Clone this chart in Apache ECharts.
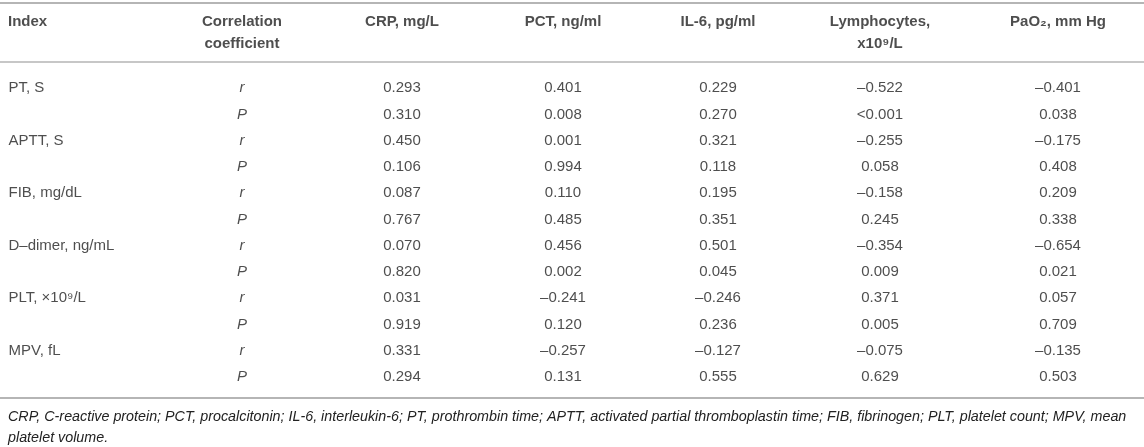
<!DOCTYPE html>
<html><head><meta charset="utf-8">
<script src="https://cdn.jsdelivr.net/npm/echarts@6/dist/echarts.min.js"></script>
<style>html,body{margin:0;padding:0;background:#fff}#c{width:1144px;height:447px}</style>
</head><body><div id="c"></div>
<script>
// ---- data ----
const indexHeader = 'Index';
const coefHeader = 'Correlation\ncoefficient';
const columnHeaders = ['CRP, mg/L', 'PCT, ng/ml', 'IL-6, pg/ml', 'Lymphocytes,\nx10⁹/L', 'PaO₂, mm Hg'];
const indices = ['PT, S', 'APTT, S', 'FIB, mg/dL', 'D–dimer, ng/mL', 'PLT, ×10⁹/L', 'MPV, fL'];
const coefLabels = ['r', 'P'];
const rValues = [
  [0.293, 0.401, 0.229, -0.522, -0.401],
  [0.450, 0.001, 0.321, -0.255, -0.175],
  [0.087, 0.110, 0.195, -0.158, 0.209],
  [0.070, 0.456, 0.501, -0.354, -0.654],
  [0.031, -0.241, -0.246, 0.371, 0.057],
  [0.331, -0.257, -0.127, -0.075, -0.135]
];
const pValues = [
  [0.310, 0.008, 0.270, '<0.001', 0.038],
  [0.106, 0.994, 0.118, 0.058, 0.408],
  [0.767, 0.485, 0.351, 0.245, 0.338],
  [0.820, 0.002, 0.045, 0.009, 0.021],
  [0.919, 0.120, 0.236, 0.005, 0.709],
  [0.294, 0.131, 0.555, 0.629, 0.503]
];
const footnoteLines = [
  'CRP, C-reactive protein; PCT, procalcitonin; IL-6, interleukin-6; PT, prothrombin time; APTT, activated partial thromboplastin time; FIB, fibrinogen; PLT, platelet count; MPV, mean',
  'platelet volume.'
];

// ---- layout (not data) ----
const W = 1144;
const COL_X = [8, 242, 402, 563, 718, 880, 1058]; // first: left edge of Index column, others: column centres
const FONT = "'Liberation Sans', Arial, Helvetica, sans-serif";
const FS = 15;
const TXT = '#222';
const RULE = '#b5b5b5';

const fmt = v => typeof v === 'string' ? v : (v < 0 ? '–' : '') + Math.abs(v).toFixed(3);
const rowKey = (i, c) => indices[i] + '|' + c;
const rowKeys = [];
indices.forEach((_, i) => coefLabels.forEach(c => rowKeys.push(rowKey(i, c))));

const baseScatter = {
  type: 'scatter', symbolSize: 1, silent: true,
  itemStyle: { color: 'rgba(0,0,0,0)' }
};
const series = [];

// header (grid 1)
series.push(Object.assign({}, baseScatter, {
  xAxisIndex: 3, yAxisIndex: 1,
  data: [{ value: [COL_X[0], 1], name: indexHeader, label: { align: 'left' } }]
    .concat([{ value: [COL_X[1], 1], name: coefHeader }])
    .concat(columnHeaders.map((h, j) => ({ value: [COL_X[j + 2], 1], name: h }))),
  label: {
    show: true, position: 'bottom', distance: 7, formatter: p => p.name,
    fontFamily: FONT, fontSize: FS, fontWeight: 'bold', color: TXT, lineHeight: 22, align: 'center'
  }
}));

// index column
series.push(Object.assign({}, baseScatter, {
  xAxisIndex: 0, yAxisIndex: 0,
  data: indices.map((n, i) => ({ value: [COL_X[0], rowKey(i, 'r')], name: n })),
  label: { show: true, position: 'right', distance: 0, formatter: p => p.name,
    fontFamily: FONT, fontSize: FS, color: TXT }
}));
// coefficient column
series.push(Object.assign({}, baseScatter, {
  xAxisIndex: 0, yAxisIndex: 0,
  data: rowKeys.map(k => ({ value: [COL_X[1], k], name: k.split('|')[1] })),
  label: { show: true, position: 'inside', formatter: p => p.name,
    fontFamily: FONT, fontSize: FS, fontStyle: 'italic', color: TXT }
}));
// value columns
columnHeaders.forEach((h, j) => {
  const data = [];
  indices.forEach((_, i) => {
    data.push({ value: [COL_X[j + 2], rowKey(i, 'r')], name: fmt(rValues[i][j]) });
    data.push({ value: [COL_X[j + 2], rowKey(i, 'P')], name: fmt(pValues[i][j]) });
  });
  series.push(Object.assign({}, baseScatter, {
    name: h, xAxisIndex: 0, yAxisIndex: 0, data,
    label: { show: true, position: 'inside', formatter: p => p.name,
      fontFamily: FONT, fontSize: FS, color: TXT }
  }));
});

const hiddenX = { type: 'value', min: 0, max: W, show: false };
const ruleAxis = (grid, pos, offset, width) => ({
  type: 'value', min: 0, max: W, gridIndex: grid, position: pos, offset,
  axisLine: { show: true, onZero: false, lineStyle: { color: RULE, width } },
  axisTick: { show: false }, axisLabel: { show: false }, splitLine: { show: false }
});

const option = {
  animation: false,
  backgroundColor: '#fff',
  title: {
    text: footnoteLines.join('\n'), left: 8, top: 407, padding: 0,
    textStyle: { fontFamily: FONT, fontSize: 14.3, fontStyle: 'italic', fontWeight: 'normal',
      color: TXT, lineHeight: 21 }
  },
  grid: [
    { left: 0, right: 0, top: 75, bottom: 57 },
    { left: 0, right: 0, top: 3, height: 57 }
  ],
  xAxis: [
    Object.assign({ gridIndex: 0 }, hiddenX),
    ruleAxis(0, 'top', 13, 1.5),
    ruleAxis(0, 'bottom', 8, 2),
    ruleAxis(1, 'top', 0, 2)
  ],
  yAxis: [
    { type: 'category', gridIndex: 0, data: rowKeys, inverse: true, show: false },
    { type: 'value', gridIndex: 1, min: 0, max: 1, show: false }
  ],
  series
};
echarts.init(document.getElementById('c'), null, { renderer: 'canvas' }).setOption(option);
</script>
</body></html>
